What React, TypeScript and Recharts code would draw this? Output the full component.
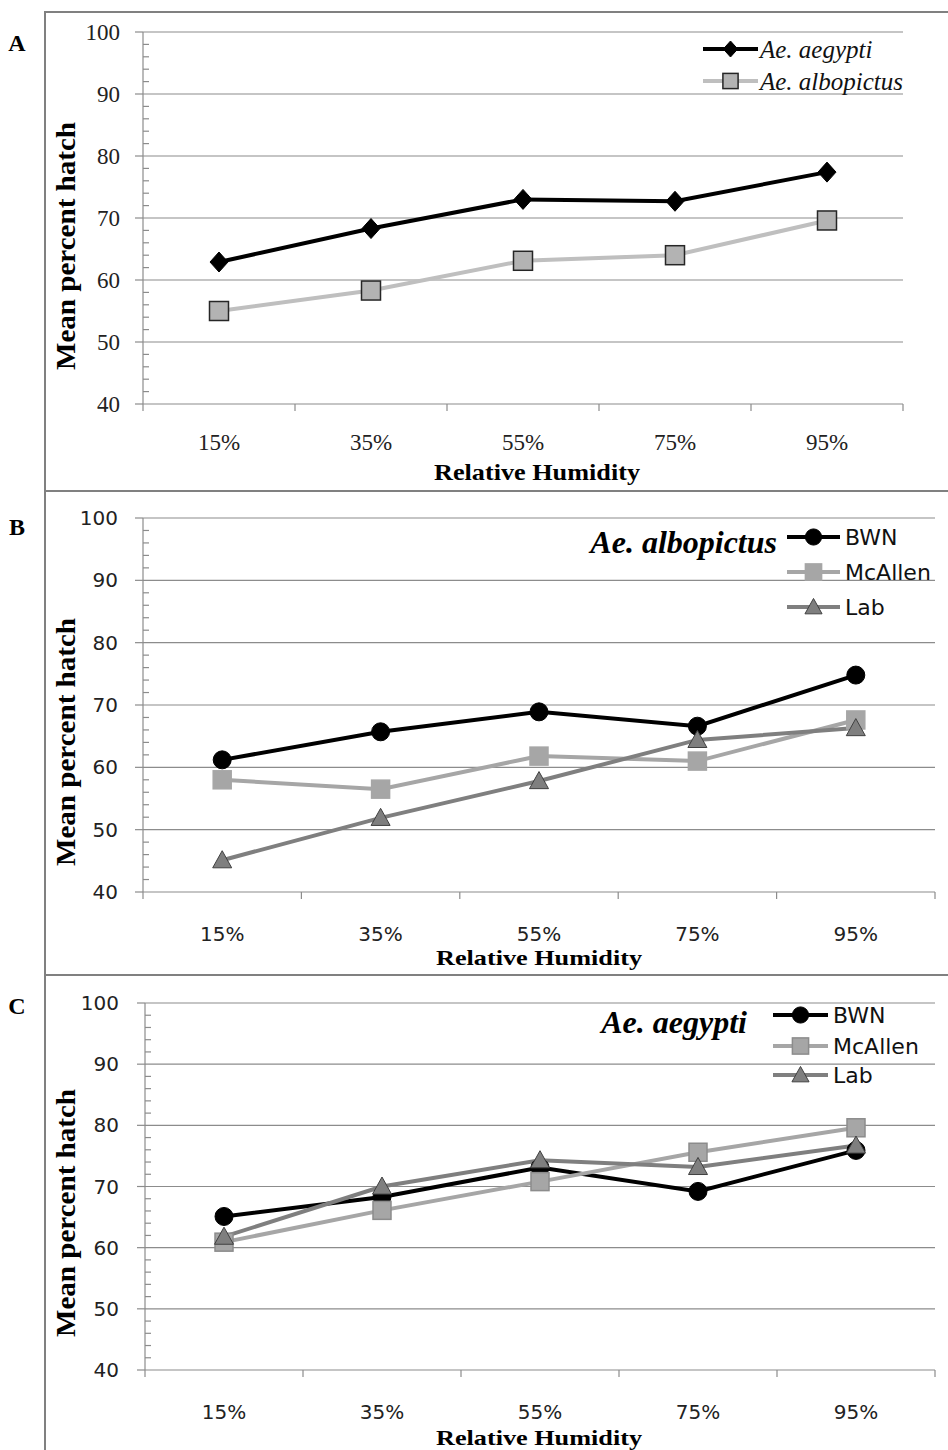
import React from 'react';
import { LineChart, Line, XAxis, YAxis, ReferenceLine, Legend } from 'recharts';

// x categories
const humidity = ['15%', '35%', '55%', '75%', '95%'];
// y ticks: minor every 2, labelled every 10
const yTicks = [40, 42, 44, 46, 48, 50, 52, 54, 56, 58, 60, 62, 64, 66, 68, 70, 72, 74, 76, 78, 80, 82, 84, 86, 88, 90, 92, 94, 96, 98, 100];
const yGrid = [50, 60, 70, 80, 90, 100];

// panel A
const aegyptiA = [62.9, 68.3, 73.0, 72.7, 77.4];
const albopictusA = [55.0, 58.3, 63.1, 64.0, 69.6];

// panel B (Ae. albopictus)
const bwnB = [61.2, 65.7, 68.9, 66.6, 74.8];
const mcallenB = [58.0, 56.5, 61.8, 61.0, 67.6];
const labB = [45.1, 51.9, 57.8, 64.4, 66.3];

// panel C (Ae. aegypti)
const bwnC = [65.1, 68.3, 73.1, 69.2, 75.9];
const mcallenC = [60.9, 66.1, 70.8, 75.6, 79.6];
const labC = [61.8, 70.0, 74.3, 73.2, 76.7];

const AXIS = '#8c8c8c';

// x axis is numeric: boundaries at integers, categories at the half steps
const xTicks = humidity.flatMap((_, i) => [i, i + 0.5]).concat(humidity.length);

const rowsA = humidity.map((h, i) => ({ x: i + 0.5, h, aegypti: aegyptiA[i], albopictus: albopictusA[i] }));
const rowsB = humidity.map((h, i) => ({ x: i + 0.5, h, bwn: bwnB[i], mcallen: mcallenB[i], lab: labB[i] }));
const rowsC = humidity.map((h, i) => ({ x: i + 0.5, h, bwn: bwnC[i], mcallen: mcallenC[i], lab: labC[i] }));

type Marker = 'diamond' | 'square' | 'circle' | 'triangle';
interface SeriesDef {
  key: string;
  name: string;
  stroke: string;
  width: number;
  marker: Marker;
  fill: string;
  edge: string;
  size: number;
}

function shape(m: Marker, cx: number, cy: number, fill: string, edge: string, size: number, key?: string) {
  const h = size / 2;
  if (m === 'diamond')
    return <path key={key} d={`M${cx},${cy - h} L${cx + h * 0.9},${cy} L${cx},${cy + h} L${cx - h * 0.9},${cy} Z`} fill={fill} stroke={edge} strokeWidth={1} />;
  if (m === 'square')
    return <rect key={key} x={cx - h} y={cy - h} width={size} height={size} fill={fill} stroke={edge} strokeWidth={1.5} />;
  if (m === 'circle') return <circle key={key} cx={cx} cy={cy} r={h} fill={fill} stroke={edge} strokeWidth={1} />;
  return <path key={key} d={`M${cx},${cy - h} L${cx + h},${cy + h * 0.8} L${cx - h},${cy + h * 0.8} Z`} fill={fill} stroke={edge} strokeWidth={1} />;
}

const seriesA: SeriesDef[] = [
  { key: 'aegypti', name: 'Ae. aegypti', stroke: '#000', width: 4, marker: 'diamond', fill: '#000', edge: '#000', size: 20 },
  { key: 'albopictus', name: 'Ae. albopictus', stroke: '#bfbfbf', width: 4, marker: 'square', fill: '#b3b3b3', edge: '#262626', size: 19 },
];
const seriesB: SeriesDef[] = [
  { key: 'bwn', name: 'BWN', stroke: '#000', width: 4, marker: 'circle', fill: '#000', edge: '#000', size: 18 },
  { key: 'mcallen', name: 'McAllen', stroke: '#a6a6a6', width: 4, marker: 'square', fill: '#a6a6a6', edge: '#a6a6a6', size: 18 },
  { key: 'lab', name: 'Lab', stroke: '#7f7f7f', width: 4, marker: 'triangle', fill: '#7f7f7f', edge: '#404040', size: 19 },
];
const seriesC: SeriesDef[] = [
  { key: 'bwn', name: 'BWN', stroke: '#000', width: 4, marker: 'circle', fill: '#000', edge: '#000', size: 18 },
  { key: 'mcallen', name: 'McAllen', stroke: '#a6a6a6', width: 4, marker: 'square', fill: '#a6a6a6', edge: '#8c8c8c', size: 18 },
  { key: 'lab', name: 'Lab', stroke: '#7f7f7f', width: 4, marker: 'triangle', fill: '#7f7f7f', edge: '#404040', size: 19 },
];

interface LegendCfg {
  left: number;
  top: number;
  lineLen: number;
  textGap: number;
  rowYs: number[];
  font: string;
  size: number;
  italic?: boolean;
  markerScale: number;
}

interface PanelProps {
  height: number;
  plotTop: number;
  plotBottom: number;
  plotLeft: number;
  plotRight: number;
  rows: any[];
  series: SeriesDef[];
  tickFont: string;
  tickSize: number;
  yLabelGap: number;
  xLabelDy: number;
  legend: LegendCfg;
}

function Panel(p: PanelProps) {
  const lg = p.legend;
  const YTick = (t: any) => {
    const v = t.payload.value;
    const { x, y } = t;
    if (v % 10 !== 0) return <line x1={x} x2={x + 6} y1={y} y2={y} stroke={AXIS} strokeWidth={1.2} />;
    return (
      <g>
        <line x1={x - 8} x2={x} y1={y} y2={y} stroke={AXIS} strokeWidth={1.2} />
        <text x={x - p.yLabelGap} y={y} textAnchor="end" dominantBaseline="central" fontFamily={p.tickFont} fontSize={p.tickSize} fill="#222">
          {v}
        </text>
      </g>
    );
  };
  const XTick = (t: any) => {
    const v = t.payload.value;
    if (Number.isInteger(v)) return <line x1={t.x} x2={t.x} y1={t.y} y2={t.y + 7} stroke={AXIS} strokeWidth={1.2} />;
    return (
      <text x={t.x} y={t.y + p.xLabelDy} textAnchor="middle" dominantBaseline="central" fontFamily={p.tickFont} fontSize={p.tickSize} fill="#222">
        {humidity[Math.floor(v)]}
      </text>
    );
  };
  const renderLegend = () => (
    <svg width={260} height={lg.rowYs[lg.rowYs.length - 1] - lg.rowYs[0] + 40} style={{ overflow: 'visible', display: 'block' }}>
      {p.series.map((s, i) => {
        const y = lg.rowYs[i] - lg.rowYs[0] + 20;
        return (
          <g key={s.key}>
            <line x1={0} x2={lg.lineLen} y1={y} y2={y} stroke={s.stroke} strokeWidth={s.width} />
            {shape(s.marker, lg.lineLen / 2, y, s.fill, s.edge, s.size * lg.markerScale)}
            <text x={lg.lineLen + lg.textGap} y={y} dominantBaseline="central" fontFamily={lg.font} fontSize={lg.size} fontStyle={lg.italic ? 'italic' : 'normal'} fill="#111">
              {s.name}
            </text>
          </g>
        );
      })}
    </svg>
  );
  return (
    <LineChart width={948} height={p.height} data={p.rows} margin={{ top: p.plotTop, right: 948 - p.plotRight, bottom: 0, left: 0 }}>
      <XAxis
        type="number"
        dataKey="x"
        domain={[0, humidity.length]}
        ticks={xTicks}
        interval={0}
        height={p.height - p.plotBottom}
        tick={XTick}
        tickLine={false}
        tickSize={0}
        tickMargin={0}
        stroke={AXIS}
        strokeWidth={1.2}
        allowDecimals
      />
      <YAxis
        type="number"
        domain={[40, 100]}
        ticks={yTicks}
        interval={0}
        width={p.plotLeft}
        tick={YTick}
        tickLine={false}
        tickSize={0}
        tickMargin={0}
        stroke={AXIS}
        strokeWidth={1.2}
      />
      {yGrid.map((v) => (
        <ReferenceLine key={v} y={v} stroke={AXIS} strokeWidth={1.2} />
      ))}
      {p.series.map((s) => (
        <Line
          key={s.key}
          dataKey={s.key}
          name={s.name}
          stroke={s.stroke}
          strokeWidth={s.width}
          isAnimationActive={false}
          activeDot={false}
          dot={(d: any) => shape(s.marker, d.cx, d.cy, s.fill, s.edge, s.size, `${s.key}-${d.index}`)}
        />
      ))}
      <Legend
        layout="horizontal"
        verticalAlign="middle"
        align="center"
        content={renderLegend}
        wrapperStyle={{ left: lg.left, top: lg.top - 20, width: 260 }}
      />
    </LineChart>
  );
}

const SERIF = '"Liberation Serif", "Times New Roman", serif';
const SANS = '"DejaVu Sans", Verdana, sans-serif';

export default function App() {
  return (
    <div style={{ position: 'absolute', left: 0, top: 0, width: 948, height: 1450, background: '#fff', overflow: 'hidden' }}>
      {/* panel frames */}
      <div style={{ position: 'absolute', left: 44, top: 11, width: 2, height: 1440, background: '#808080' }} />
      <div style={{ position: 'absolute', left: 44, top: 11, width: 904, height: 2, background: '#808080' }} />
      <div style={{ position: 'absolute', left: 44, top: 490, width: 904, height: 2, background: '#808080' }} />
      <div style={{ position: 'absolute', left: 44, top: 974, width: 904, height: 2, background: '#808080' }} />

      <div style={{ position: 'absolute', left: 0, top: 0 }}>
        <Panel
          height={491}
          plotTop={32}
          plotBottom={404}
          plotLeft={143}
          plotRight={903}
          rows={rowsA}
          series={seriesA}
          tickFont={SERIF}
          tickSize={23}
          yLabelGap={23}
          xLabelDy={38}
          legend={{ left: 703, top: 49, lineLen: 55, textGap: 2, rowYs: [49, 81], font: SERIF, size: 25, italic: true, markerScale: 0.8 }}
        />
      </div>
      <div style={{ position: 'absolute', left: 0, top: 491 }}>
        <Panel
          height={484}
          plotTop={27}
          plotBottom={401}
          plotLeft={143}
          plotRight={935}
          rows={rowsB}
          series={seriesB}
          tickFont={SANS}
          tickSize={20}
          yLabelGap={25}
          xLabelDy={42}
          legend={{ left: 787, top: 46, lineLen: 53, textGap: 5, rowYs: [46, 81, 116], font: SANS, size: 22, markerScale: 0.9 }}
        />
      </div>
      <div style={{ position: 'absolute', left: 0, top: 975 }}>
        <Panel
          height={475}
          plotTop={28}
          plotBottom={395}
          plotLeft={145}
          plotRight={935}
          rows={rowsC}
          series={seriesC}
          tickFont={SANS}
          tickSize={20}
          yLabelGap={26}
          xLabelDy={42}
          legend={{ left: 773, top: 40, lineLen: 55, textGap: 5, rowYs: [40, 71, 100], font: SANS, size: 22, markerScale: 0.9 }}
        />
      </div>

      {/* titles and labels */}
      <svg width={948} height={1450} style={{ position: 'absolute', left: 0, top: 0, pointerEvents: 'none' }}>
        <g fontFamily={SERIF} fontWeight="bold" fill="#000">
          <text x={17} y={51} fontSize={24} textAnchor="middle">A</text>
          <text x={17} y={535} fontSize={24} textAnchor="middle">B</text>
          <text x={17} y={1014} fontSize={24} textAnchor="middle">C</text>

          <text x={537} y={480} fontSize={23} textAnchor="middle" textLength={206} lengthAdjust="spacingAndGlyphs">Relative Humidity</text>
          <text x={539} y={965} fontSize={22} textAnchor="middle" textLength={206} lengthAdjust="spacingAndGlyphs">Relative Humidity</text>
          <text x={539} y={1445} fontSize={22} textAnchor="middle" textLength={206} lengthAdjust="spacingAndGlyphs">Relative Humidity</text>

          {[246, 742, 1213].map((cy) => (
            <text key={cy} transform={`translate(66,${cy}) rotate(-90)`} fontSize={27} textAnchor="middle" dominantBaseline="central" textLength={248} lengthAdjust="spacingAndGlyphs">
              Mean percent hatch
            </text>
          ))}

          <text x={777} y={553} fontSize={32} fontStyle="italic" textAnchor="end">Ae. albopictus</text>
          <text x={747} y={1033} fontSize={32} fontStyle="italic" textAnchor="end">Ae. aegypti</text>
        </g>
      </svg>
    </div>
  );
}
